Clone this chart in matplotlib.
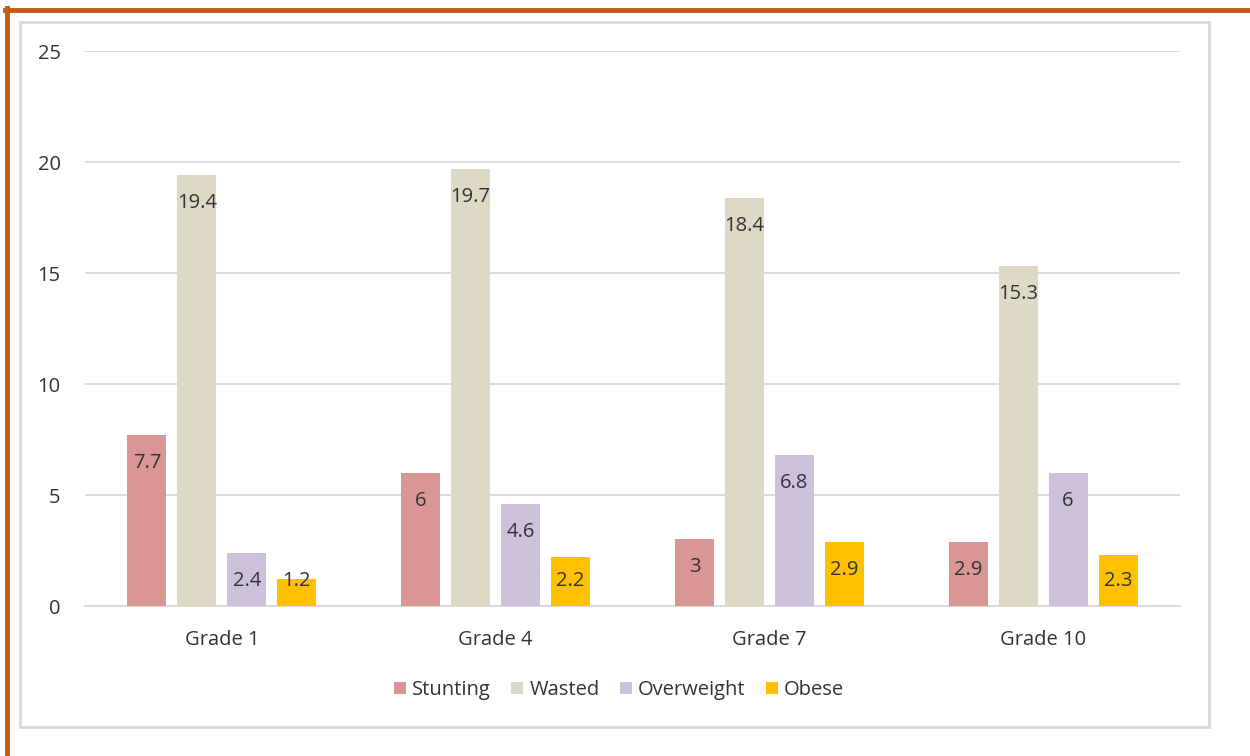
import matplotlib.pyplot as plt
import numpy as np
from matplotlib.patches import Rectangle
from matplotlib.lines import Line2D

# data
grades = ["Grade 1", "Grade 4", "Grade 7", "Grade 10"]
series = ["Stunting", "Wasted", "Overweight", "Obese"]
stunting = [7.7, 6, 3, 2.9]
wasted = [19.4, 19.7, 18.4, 15.3]
overweight = [2.4, 4.6, 6.8, 6]
obese = [1.2, 2.2, 2.9, 2.3]
colors = ["#DA9694", "#DDD9C4", "#CCC0DA", "#FFC000"]

plt.rcParams['font.family'] = ['Open Sans', 'DejaVu Sans']
FS = 14.5
TXT = "#333333"

W, H = 1250, 756
fig = plt.figure(figsize=(W / 100, H / 100), dpi=100)

# outer orange border (top + left) and inner grey chart frame
fig.add_artist(Line2D([5 / W, 1], [1 - 10 / H, 1 - 10 / H], color="#C55A11", lw=3.5))
fig.add_artist(Line2D([7 / W, 7 / W], [0, 1 - 8 / H], color="#C55A11", lw=3.5))
fig.add_artist(Rectangle((20 / W, 1 - 727 / H), (1209 - 20) / W, (727 - 22) / H,
                         fill=False, ec="#D9D9D9", lw=2))

ax = fig.add_axes([85 / W, 1 - 606 / H, (1180 - 85) / W, (606 - 51) / H])

x = np.arange(len(grades))
width = 39 / 274
step = 50 / 274
values = [stunting, wasted, overweight, obese]
px_per_unit = 555 / 25
for i, (name, vals, c) in enumerate(zip(series, values, colors)):
    pos = x + (i - 1.5) * step
    ax.bar(pos, vals, width, color=c, label=name, zorder=3)
    for p, v in zip(pos, vals):
        ly = max(v - 28 / px_per_unit, 25 / px_per_unit)
        ax.text(p, ly, f"{v:g}", ha="center", va="center", fontsize=FS,
                color=TXT, zorder=4)

ax.set_xlim(-0.5, 3.5)
ax.set_ylim(0, 25)
ax.set_yticks([0, 5, 10, 15, 20, 25])
ax.set_xticks(x)
ax.set_xticklabels(grades)
ax.yaxis.grid(True, color="#D9D9D9", lw=1.3, zorder=0)
ax.tick_params(axis="both", length=0, labelsize=FS, colors=TXT)
ax.tick_params(axis="y", pad=17.5)
ax.tick_params(axis="x", pad=17)
for s in ["top", "right", "left"]:
    ax.spines[s].set_visible(False)
ax.spines["bottom"].set_color("#D9D9D9")
ax.spines["bottom"].set_linewidth(1.3)

handles, labels = ax.get_legend_handles_labels()
leg = fig.legend(handles, labels, loc="center", bbox_to_anchor=(619 / W, 1 - 690 / H),
                 ncol=4, frameon=False, fontsize=FS, handlelength=0.6, handleheight=0.6,
                 handletextpad=0.3, columnspacing=1.0)
for t in leg.get_texts():
    t.set_color(TXT)

fig.savefig("out.png", dpi=100)
